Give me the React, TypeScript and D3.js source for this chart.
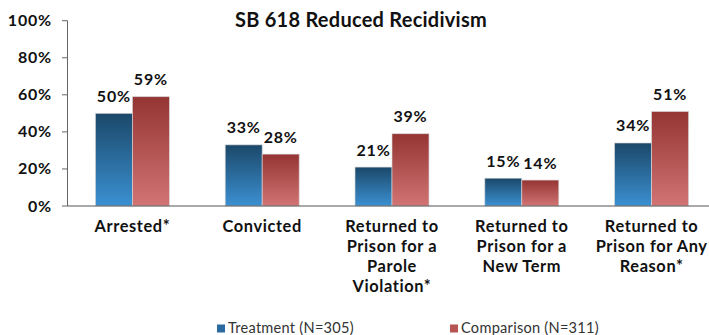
import React from "react";
import * as d3 from "d3";

const categories: string[][] = [
  ["Arrested*"],
  ["Convicted"],
  ["Returned to", "Prison for a", "Parole", "Violation*"],
  ["Returned to", "Prison for a", "New Term"],
  ["Returned to", "Prison for Any", "Reason*"],
];
const treatment = [50, 33, 21, 15, 34];
const comparison = [59, 28, 39, 14, 51];
const seriesNames = ["Treatment (N=305)", "Comparison (N=311)"];
const yTicks = [0, 20, 40, 60, 80, 100];
const title = "SB 618 Reduced Recidivism";

const W = 709;
const H = 335;
const FONT = "Lato, 'Open Sans', sans-serif";

export default function App() {
  const x0 = 67.5;
  const x1 = x0 + 649;
  const y = d3.scaleLinear().domain([0, 100]).range([206, 20.7]);
  const x = d3
    .scaleBand<number>()
    .domain(categories.map((_, i) => i))
    .range([x0, x1])
    .paddingInner(0.43)
    .paddingOuter(0.215);
  const xs = d3.scaleBand<number>().domain([0, 1]).range([0, x.bandwidth()]);
  const series = [treatment, comparison];
  const grads = [
    ["#1b4869", "#3b90d2"],
    ["#943533", "#d27474"],
  ];
  const legendColors = ["#2a6aa0", "#b95454"];
  const legendX = [217, 450];

  return (
    <svg
      width={W}
      height={H}
      style={{ position: "absolute", left: 0, top: 0, background: "#fff" }}
      fontFamily={FONT}
    >
      <defs>
        {grads.map((g, i) => (
          <linearGradient key={i} id={`g${i}`} x1="0" y1="0" x2="0" y2="1">
            <stop offset="0" stopColor={g[0]} />
            <stop offset="1" stopColor={g[1]} />
          </linearGradient>
        ))}
      </defs>
      <text
        x={361}
        y={26.5}
        textAnchor="middle"
        fontSize={20}
        fontWeight={700}
        letterSpacing={0.25}
        fill="#111"
      >
        {title}
      </text>
      {yTicks.map((t) => (
        <g key={t}>
          <line x1={62} x2={x0} y1={y(t)} y2={y(t)} stroke="#666" />
          <text
            x={52}
            y={y(t) + 5.5}
            textAnchor="end"
            fontSize={16}
            fontWeight={700}
            letterSpacing={0.8}
            fill="#111"
          >
            {t}%
          </text>
        </g>
      ))}
      {series.map((vals, s) =>
        vals.map((v, i) => {
          const bx = (x(i) as number) + (xs(s) as number);
          return (
            <g key={`${s}-${i}`}>
              <rect
                x={bx}
                y={y(v)}
                width={xs.bandwidth()}
                height={y(0) - y(v)}
                fill={`url(#g${s})`}
                stroke="rgba(215,215,215,0.8)"
                strokeWidth={0.8}
              />
              <text
                x={bx + xs.bandwidth() / 2}
                y={y(v) - 11.5}
                textAnchor="middle"
                fontSize={16}
                fontWeight={700}
                letterSpacing={0.8}
                fill="#111"
              >
                {v}%
              </text>
            </g>
          );
        })
      )}
      <line x1={x0} x2={x0} y1={y(100)} y2={y(0)} stroke="#666" />
      <line x1={x0} x2={W} y1={y(0)} y2={y(0)} stroke="#555" />
      {categories.map((lines, i) => (
        <text
          key={i}
          x={(x(i) as number) + x.bandwidth() / 2}
          textAnchor="middle"
          fontSize={16.4}
          fontWeight={700}
          letterSpacing={0.6}
          fill="#111"
        >
          {lines.map((l, j) => (
            <tspan key={j} x={(x(i) as number) + x.bandwidth() / 2} y={232.3 + j * 19.8}>
              {l}
            </tspan>
          ))}
        </text>
      ))}
      {seriesNames.map((n, i) => (
        <g key={n}>
          <rect x={legendX[i]} y={324.5} width={8} height={8} fill={legendColors[i]} />
          <text x={legendX[i] + 11} y={332.5} fontSize={14.6} letterSpacing={0.25} fill="#333">
            {n}
          </text>
        </g>
      ))}
    </svg>
  );
}
